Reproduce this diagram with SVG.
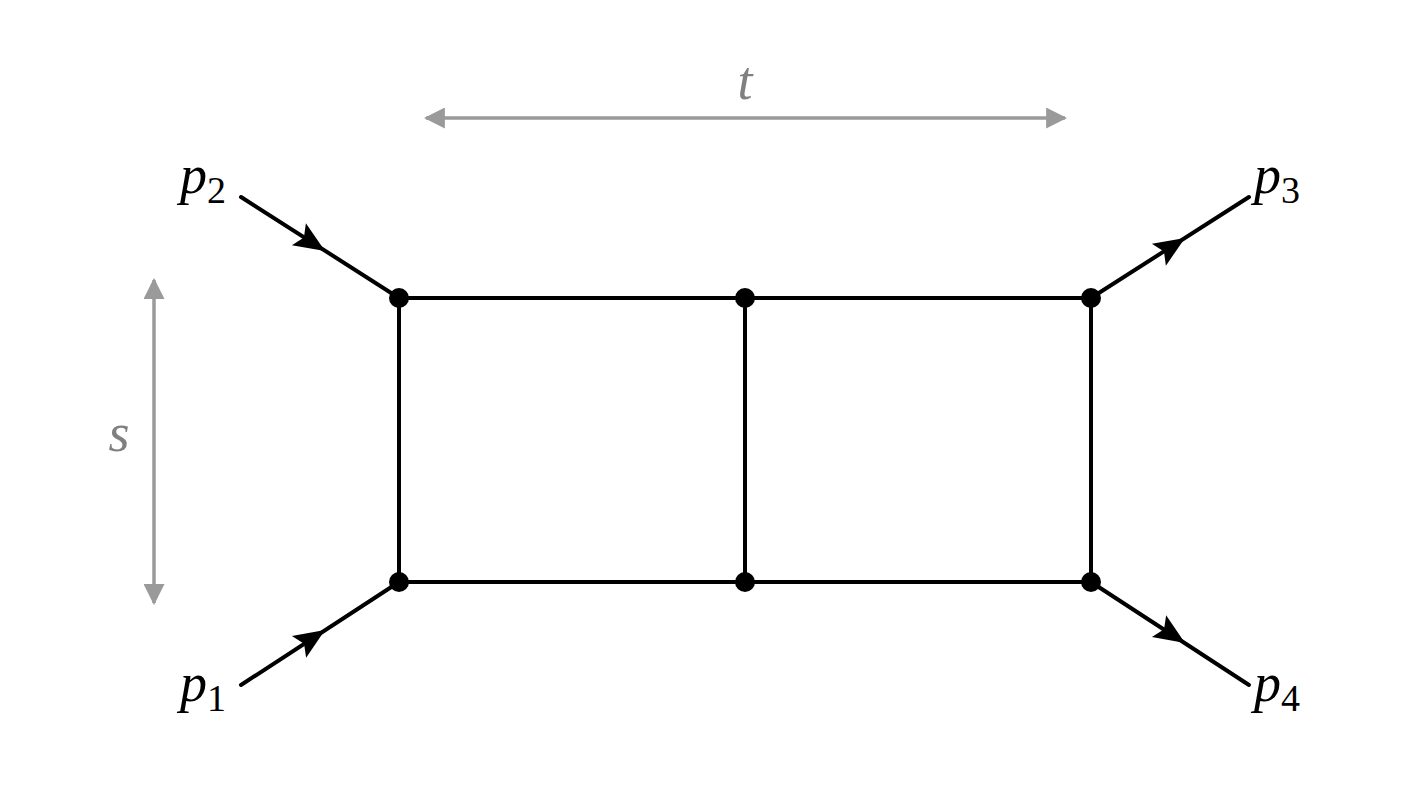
<svg xmlns="http://www.w3.org/2000/svg" width="1410" height="807" viewBox="0 0 1410 807">
<style>
.ln{stroke:#000;stroke-width:4;fill:none;stroke-linecap:round}
.gr{stroke:#9a9a9a;stroke-width:3.5;fill:none}
</style>
<defs>
<marker id="ga" viewBox="0 0 10 10" refX="9" refY="5" markerWidth="6" markerHeight="6" orient="auto-start-reverse" markerUnits="strokeWidth">
<path d="M0,0 L10,5 L0,10 z" fill="#9a9a9a"/>
</marker>
<path id="ah" d="M0,0 L-31,-13 L-25,0 L-31,13 z" fill="#000"/>
</defs>
<rect width="1410" height="807" fill="#fff"/>
<g id="connectors">
<line class="ln" x1="399" y1="298" x2="1091" y2="298"/>
<line class="ln" x1="399" y1="582" x2="1091" y2="582"/>
<line class="ln" x1="399" y1="298" x2="399" y2="582"/>
<line class="ln" x1="745" y1="298" x2="745" y2="582"/>
<line class="ln" x1="1091" y1="298" x2="1091" y2="582"/>
<line class="ln" x1="241" y1="197" x2="399" y2="298"/>
<line class="ln" x1="1091" y1="298" x2="1249" y2="197"/>
<line class="ln" x1="241" y1="685" x2="399" y2="582"/>
<line class="ln" x1="1091" y1="582" x2="1249" y2="685"/>
<use href="#ah" transform="translate(325,251) rotate(32.6)"/>
<use href="#ah" transform="translate(1185,238) rotate(-32.6)"/>
<use href="#ah" transform="translate(325,630) rotate(-33.1)"/>
<use href="#ah" transform="translate(1185,643) rotate(33.1)"/>
<line class="gr" x1="426" y1="118" x2="1065" y2="118" marker-start="url(#ga)" marker-end="url(#ga)"/>
<line class="gr" x1="154" y1="280" x2="154" y2="603" marker-start="url(#ga)" marker-end="url(#ga)"/>
</g>
<g id="v1"><circle cx="399" cy="298" r="10"/></g>
<g id="v2"><circle cx="745" cy="298" r="10"/></g>
<g id="v3"><circle cx="1091" cy="298" r="10"/></g>
<g id="v4"><circle cx="399" cy="582" r="10"/></g>
<g id="v5"><circle cx="745" cy="582" r="10"/></g>
<g id="v6"><circle cx="1091" cy="582" r="10"/></g>
<g id="labels" font-family="Liberation Serif, serif" font-size="54">
<text x="180" y="193" font-style="italic">p<tspan font-style="normal" font-size="38" dy="10">2</tspan></text>
<text x="1254" y="193" font-style="italic">p<tspan font-style="normal" font-size="38" dy="10">3</tspan></text>
<text x="180" y="701" font-style="italic">p<tspan font-style="normal" font-size="38" dy="10">1</tspan></text>
<text x="1254" y="701" font-style="italic">p<tspan font-style="normal" font-size="38" dy="10">4</tspan></text>
<text x="745" y="99" text-anchor="middle" font-style="italic" fill="#808080">t</text>
<text x="119" y="451" text-anchor="middle" font-style="italic" fill="#808080">s</text>
</g>
</svg>
